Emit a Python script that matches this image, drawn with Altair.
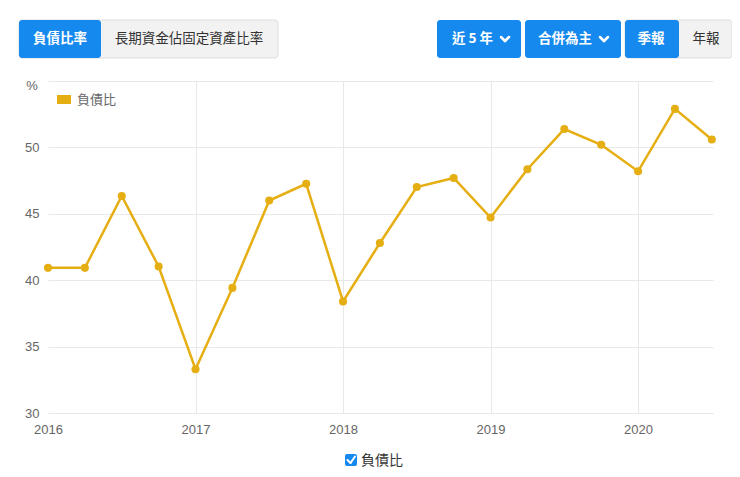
import altair as alt
import pandas as pd

# ---- data ----
quarters = ["2016Q1", "2016Q2", "2016Q3", "2016Q4",
            "2017Q1", "2017Q2", "2017Q3", "2017Q4",
            "2018Q1", "2018Q2", "2018Q3", "2018Q4",
            "2019Q1", "2019Q2", "2019Q3", "2019Q4",
            "2020Q1", "2020Q2", "2020Q3"]
debt_ratio = [40.93, 40.93, 46.34, 41.03,
              33.30, 39.42, 46.00, 47.26,
              38.40, 42.80, 47.02, 47.70,
              44.72, 48.36, 51.38, 50.20,
              48.20, 52.90, 50.60]
year_ticks = [2016, 2017, 2018, 2019, 2020]
y_ticks = [30, 35, 40, 45, 50, 55]
series_name = "負債比"
tab_labels = ["負債比率", "長期資金佔固定資產比率"]
range_label = "近 5 年"
basis_label = "合併為主"
period_labels = ["季報", "年報"]

# ---- style ----
LINE = "#e5ae12"
BLUE = "#1589ee"
GRAYBTN = "#f2f2f2"
GRID = "#e8e8e8"
CJK = "Noto Sans CJK TC"
NUM = "Liberation Sans"

def qpos(q):
    return int(q[:4]) + (int(q[-1]) - 1) * 0.25

df = pd.DataFrame({"quarter": quarters,
                   "pos": [qpos(q) for q in quarters],
                   "value": debt_ratio})

# origin of plot in page coordinates
OX, OY = 48, 81
def px(x):
    return alt.value(x - OX)
def py(y):
    return alt.value(y - OY)

one = pd.DataFrame({"a": [0]})

xenc = alt.X("pos:Q",
             scale=alt.Scale(domain=[2016, 2020.508], nice=False, zero=False),
             axis=alt.Axis(values=year_ticks, format="d", title=None,
                           labelFont=NUM, labelFontSize=13, labelColor="#666",
                           labelPadding=10, labelFlush=False, ticks=False, domain=False,
                           gridColor=GRID,
                           gridOpacity={"condition": {"test": "datum.value === 2016", "value": 0}, "value": 1}))
yenc = alt.Y("value:Q",
             scale=alt.Scale(domain=[30, 55], nice=False, zero=False),
             axis=alt.Axis(values=y_ticks, title=None,
                           labelExpr="datum.value == 55 ? '' : datum.label",
                           labelFont=NUM, labelFontSize=13, labelColor="#666",
                           labelPadding=9, labelFlush=False, ticks=False, domain=False,
                           gridColor=GRID))

line = alt.Chart(df).mark_line(color=LINE, strokeWidth=2.5).encode(x=xenc, y=yenc)
points = alt.Chart(df).mark_circle(color=LINE, size=65, opacity=1).encode(
    x="pos:Q", y="value:Q", tooltip=["quarter", "value"])

layers = [line, points]

def rect(x0, x1, y0, y1, fill, stroke=None, r=3):
    kw = dict(fill=fill, cornerRadius=r)
    if stroke:
        kw.update(stroke=stroke, strokeWidth=1)
    return alt.Chart(one).mark_rect(**kw).encode(x=px(x0), x2=px(x1), y=py(y0), y2=py(y1))

def text(x, y, s, size=13.5, color="#333", weight="normal", align="center", font=CJK):
    return alt.Chart(one).mark_text(text=s, fontSize=size, color=color, fontWeight=weight,
                                    align=align, baseline="middle", font=font).encode(x=px(x), y=py(y))

def seg(x0, y0, x1, y1, color="white", w=2.5):
    return alt.Chart(one).mark_rule(color=color, strokeWidth=w, strokeCap="round").encode(
        x=px(x0), y=py(y0), x2=px(x1), y2=py(y1))

def chevron(cx, cy):
    return [seg(cx - 4, cy - 2, cx, cy + 2), seg(cx, cy + 2, cx + 4, cy - 2)]

# top-left tab group
layers += [rect(19, 278, 20, 58, GRAYBTN, "#dddddd"),
           rect(19, 101, 20, 58, BLUE),
           text(60, 39, tab_labels[0], color="white", weight="bold"),
           text(189, 39, tab_labels[1], color="#333")]

# top-right controls
layers += [rect(437, 521, 20, 58, BLUE),
           text(452, 39, range_label, color="white", weight="bold", align="left")]
layers += chevron(505, 39)
layers += [rect(525, 621, 20, 58, BLUE),
           text(538, 39, basis_label, color="white", weight="bold", align="left")]
layers += chevron(604, 39)
layers += [rect(625, 732, 20, 58, GRAYBTN, "#dddddd"),
           rect(625, 679, 20, 58, BLUE),
           text(651, 39, period_labels[0], color="white", weight="bold"),
           text(706, 39, period_labels[1], color="#333")]

# unit label and inner legend
layers += [text(32, 86, "%", size=13, color="#666", font=NUM),
           rect(57, 71, 95, 104, LINE, r=0),
           text(77, 100, series_name, size=13, color="#666", align="left")]

# bottom checkbox legend
layers += [rect(345, 357, 454, 466, BLUE, r=2),
           seg(347.5, 460, 350.5, 463, w=2), seg(350.5, 463, 355, 456.5, w=2),
           text(361, 461, series_name, size=14, color="#333", align="left")]

chart = alt.layer(*layers).properties(
    width=665, height=332,
    autosize="none",
    background="white",
    padding={"left": 40, "top": 73, "right": 19, "bottom": 56},
).configure_view(stroke="transparent", strokeWidth=0)

chart.save("out.html", embed_options={"renderer": "svg", "actions": False})
